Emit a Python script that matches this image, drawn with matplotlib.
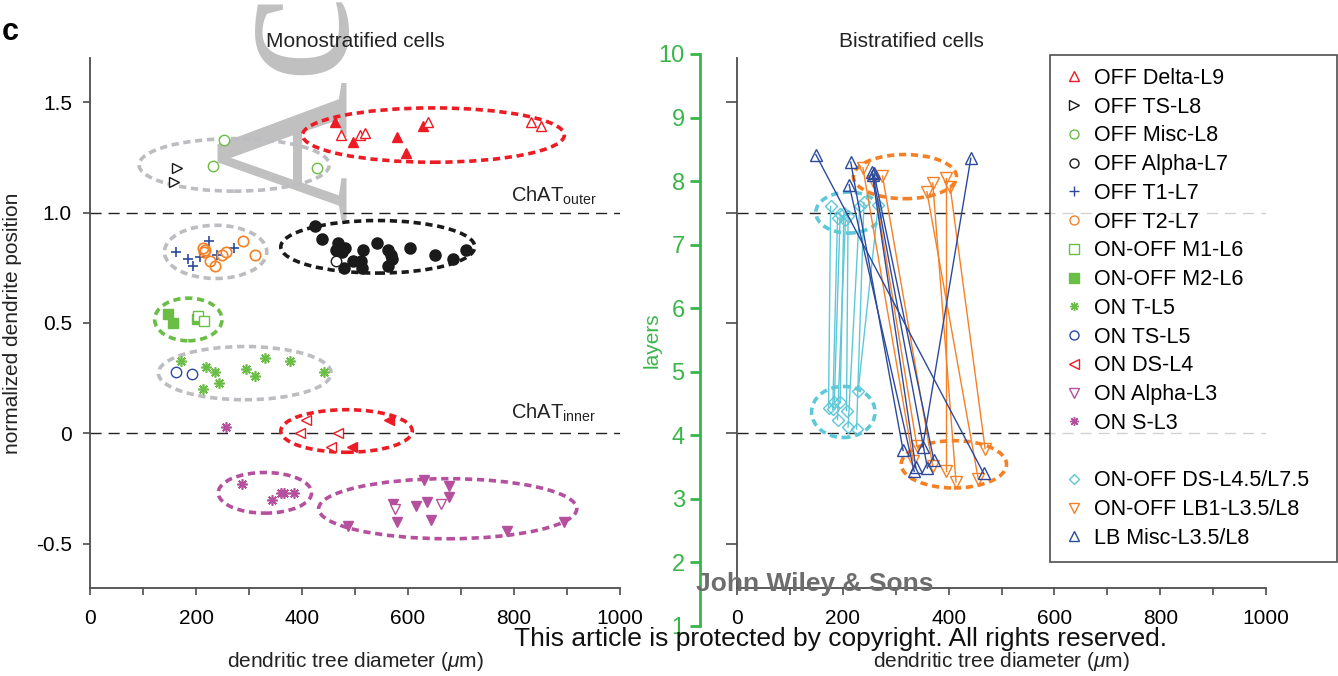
import numpy as np
import matplotlib
matplotlib.use('Agg')
import matplotlib.pyplot as plt
from matplotlib.patches import Ellipse
from matplotlib.lines import Line2D

plt.rcParams['font.family'] = ['Liberation Sans', 'DejaVu Sans']
plt.rcParams['mathtext.fontset'] = 'custom'
plt.rcParams['mathtext.rm'] = 'Liberation Sans'
plt.rcParams['mathtext.it'] = 'Liberation Sans:italic'

#%% data : monostratified cells (x = dendritic tree diameter, y = normalized position)

delta_filled_x = [463, 497, 580, 597, 628]
delta_filled_y = [1.41, 1.32, 1.34, 1.27, 1.39]
delta_open_x = [474, 509, 518, 637, 833, 851]
delta_open_y = [1.35, 1.35, 1.36, 1.41, 1.41, 1.39]
offts_x = [164, 158]
offts_y = [1.20, 1.14]
offmisc_x = [253, 233, 428]
offmisc_y = [1.33, 1.21, 1.20]
offalpha_x = [425, 438, 467, 482, 465, 475, 516, 542, 562, 567, 570, 562, 496, 511, 513, 479, 603, 650, 684, 709]
offalpha_y = [0.94, 0.88, 0.86, 0.84, 0.83, 0.82, 0.83, 0.86, 0.83, 0.81, 0.79, 0.76, 0.78, 0.78, 0.75, 0.75, 0.84, 0.81, 0.79, 0.83]
offalpha_open_x = [465]
offalpha_open_y = [0.78]
t1_x = [163, 184, 195, 208, 224, 239, 272]
t1_y = [0.82, 0.79, 0.76, 0.80, 0.87, 0.81, 0.84]
t2_x = [213, 217, 215, 226, 235, 249, 257, 289, 312]
t2_y = [0.84, 0.83, 0.82, 0.78, 0.76, 0.81, 0.82, 0.87, 0.81]
m1_x = [203, 215]
m1_y = [0.53, 0.51]
m2_x = [147, 157, 201]
m2_y = [0.54, 0.50, 0.52]
ont_x = [171, 218, 235, 244, 213, 294, 312, 330, 377, 442]
ont_y = [0.33, 0.30, 0.28, 0.23, 0.20, 0.29, 0.26, 0.34, 0.33, 0.28]
onts_x = [163, 193]
onts_y = [0.28, 0.27]
onds_open_x = [408, 396, 467, 454]
onds_open_y = [0.06, 0.00, 0.00, -0.06]
onds_filled_x = [564, 495]
onds_filled_y = [0.06, -0.06]
onalpha_x = [630, 677, 677, 635, 616, 572, 579, 643, 486, 787, 895]
onalpha_y = [-0.21, -0.24, -0.29, -0.31, -0.33, -0.32, -0.40, -0.39, -0.42, -0.44, -0.40]
onalpha_open_x = [576, 662]
onalpha_open_y = [-0.34, -0.32]
ons_x = [257, 286, 343, 360, 366, 385]
ons_y = [0.03, -0.23, -0.30, -0.27, -0.27, -0.27]

# cluster ellipses : center x, center y, width, height
mono_ell_cx = [648, 272, 543, 237, 185.5, 292, 484, 330, 675]
mono_ell_cy = [1.351, 1.216, 0.845, 0.822, 0.516, 0.273, 0.011, -0.269, -0.341]
mono_ell_w = [494, 359, 366, 193, 127, 326, 248, 176, 487]
mono_ell_h = [0.246, 0.238, 0.238, 0.241, 0.193, 0.241, 0.193, 0.184, 0.272]

#%% data : bistratified cells (layers), upper and lower arbor of each cell

ds_up_x = [177, 190, 195, 202, 205, 210, 232, 240, 267]
ds_up_y = [7.60, 7.42, 7.47, 7.49, 7.38, 7.45, 7.60, 7.66, 7.62]
ds_lo_x = [173, 181, 184, 195, 190, 207, 210, 226, 229]
ds_lo_y = [4.41, 4.38, 4.50, 4.50, 4.22, 4.36, 4.10, 4.07, 4.68]
lb1_up_x = [238, 258, 275, 359, 370, 395, 403]
lb1_up_y = [8.21, 8.00, 8.08, 7.83, 7.97, 8.05, 7.90]
lb1_lo_x = [333, 340, 370, 456, 414, 395, 469]
lb1_lo_y = [3.57, 3.80, 3.48, 3.28, 3.23, 3.41, 3.76]
lbm_up_x = [149, 215, 212, 255, 257, 259, 442]
lbm_up_y = [8.42, 8.30, 7.94, 8.14, 8.10, 8.12, 8.36]
lbm_lo_x = [466, 314, 335, 338, 360, 372, 351]
lbm_lo_y = [3.37, 3.73, 3.40, 3.46, 3.45, 3.58, 3.79]

bi_ell_cx = [211, 201, 317.5, 410]
bi_ell_cy = [7.50, 4.34, 8.07, 3.51]
bi_ell_w = [124, 120, 195, 199]
bi_ell_h = [0.65, 0.81, 0.70, 0.75]

legend_labels = ['OFF Delta-L9', 'OFF TS-L8', 'OFF Misc-L8', 'OFF Alpha-L7', 'OFF T1-L7', 'OFF T2-L7',
                 'ON-OFF M1-L6', 'ON-OFF M2-L6', 'ON T-L5', 'ON TS-L5', 'ON DS-L4', 'ON Alpha-L3',
                 'ON S-L3', ' ', 'ON-OFF DS-L4.5/L7.5', 'ON-OFF LB1-L3.5/L8', 'LB Misc-L3.5/L8']

xticks_vals = [0, 200, 400, 600, 800, 1000]
yticks_vals = [-0.5, 0, 0.5, 1.0, 1.5]
yticks_labels = ['-0.5', '0', '0.5', '1.0', '1.5']
layer_ticks = [1, 2, 3, 4, 5, 6, 7, 8, 9, 10]

#%% colours
red = '#ed1c24'
gray = '#bcbdc0'
green = '#6abd45'
blue = '#2c4a9d'
orange = '#f58025'
cyan = '#5ec8d8'
purple = '#b5509e'
black = '#1a1a1a'
axgreen = '#39b54a'
spinec = '#4d4d4d'

mono_ell_col = [red, gray, black, gray, green, gray, red, purple, purple]
bi_ell_col = [cyan, cyan, orange, orange]

W, H = 1338, 676
fig = plt.figure(figsize=(W/100, H/100), dpi=100)

def fx(px):
    return px/W
def fy(py):
    return 1 - py/H

axL = fig.add_axes([fx(90), fy(588), 530/W, 530/H])
axR = fig.add_axes([fx(737), fy(588), 529/W, 530/H])
axG = fig.add_axes([fx(700), fy(626), 0.0001, 572/H])

for ax in (axL, axR):
    ax.patch.set_alpha(0)
    for s in ['top', 'right']:
        ax.spines[s].set_visible(False)
    for s in ['left', 'bottom']:
        ax.spines[s].set_color(spinec)
        ax.spines[s].set_linewidth(1.3)
    ax.set_xlim(0, 1000)
    ax.set_xticks(xticks_vals)
    ax.set_xticks(np.arange(100, 1000, 200), minor=True)
    ax.tick_params(which='both', direction='out', length=5, width=1.2, color=spinec, labelsize=15, pad=10)
    ax.set_xlabel('dendritic tree diameter ($\\mu$m)', fontsize=15, labelpad=16, color='#222222')

#%% left panel
axL.set_ylim(-0.7, 1.7)
axL.set_yticks(yticks_vals)
axL.set_yticklabels(yticks_labels)
axL.tick_params(axis='y', pad=8)
axL.set_ylabel('normalized dendrite position', fontsize=15, labelpad=10, color='#222222')
axL.set_title('Monostratified cells', fontsize=15, pad=8, color='#222222')
for yy in [0, 1]:
    axL.axhline(yy, color='#222222', lw=1, ls=(0, (8, 5)), zorder=1)

for cx, cy, w, h, c in zip(mono_ell_cx, mono_ell_cy, mono_ell_w, mono_ell_h, mono_ell_col):
    axL.add_patch(Ellipse((cx, cy), w, h, fill=False, ec=c, lw=2.6, ls=(0, (2, 1.3)), zorder=2))

ms = 7.5
asterisk = (8, 2, 0)
axL.plot(delta_filled_x, delta_filled_y, '^', color=red, ms=ms, zorder=3)
axL.plot(delta_open_x, delta_open_y, '^', mfc='white', mec=red, ms=ms, zorder=3)
axL.plot(offts_x, offts_y, '>', mfc='white', mec=black, ms=ms, zorder=3)
axL.plot(offmisc_x, offmisc_y, 'o', mfc='white', mec=green, ms=ms, zorder=3)
axL.plot(offalpha_x, offalpha_y, 'o', color=black, ms=ms+0.5, zorder=3)
axL.plot(offalpha_open_x, offalpha_open_y, 'o', mfc='white', mec=black, ms=ms, zorder=3)
axL.plot(t1_x, t1_y, '+', color=blue, ms=ms, mew=1.2, zorder=3)
axL.plot(t2_x, t2_y, 'o', mfc='none', mec=orange, ms=ms, mew=1.2, zorder=3)
axL.plot(m2_x, m2_y, 's', color=green, ms=ms, zorder=3)
axL.plot(m1_x, m1_y, 's', mfc='white', mec=green, ms=ms, zorder=3)
axL.plot(ont_x, ont_y, ls='none', marker=asterisk, color=green, ms=ms, mew=1.2, zorder=3)
axL.plot(onts_x, onts_y, 'o', mfc='white', mec=blue, ms=ms, zorder=3)
axL.plot(onds_open_x, onds_open_y, '<', mfc='white', mec=red, ms=ms, zorder=3)
axL.plot(onds_filled_x, onds_filled_y, '<', color=red, ms=ms, zorder=3)
axL.plot(onalpha_x, onalpha_y, 'v', color=purple, ms=ms, zorder=3)
axL.plot(onalpha_open_x, onalpha_open_y, 'v', mfc='white', mec=purple, ms=ms, zorder=3)
axL.plot(ons_x, ons_y, ls='none', marker=asterisk, color=purple, ms=ms, mew=1.2, zorder=3)

axL.text(794, 1.05, 'ChAT$_{\\mathrm{outer}}$', fontsize=14.5, va='baseline', color='#222222')
axL.text(794, 0.065, 'ChAT$_{\\mathrm{inner}}$', fontsize=14.5, va='baseline', color='#222222')

#%% right panel
axR.set_ylim(1.55, 9.95)
axR.set_yticks([2.25, 4, 5.75, 7.5, 9.25])
axR.set_yticklabels([])
axR.tick_params(axis='y', length=8)
axR.set_title('Bistratified cells', fontsize=15, pad=8, color='#222222', x=(911-737)/529)
for yy in [4, 7.5]:
    axR.axhline(yy, color='#222222', lw=1, ls=(0, (8, 5)), zorder=1)

for cx, cy, w, h, c in zip(bi_ell_cx, bi_ell_cy, bi_ell_w, bi_ell_h, bi_ell_col):
    axR.add_patch(Ellipse((cx, cy), w, h, fill=False, ec=c, lw=2.6, ls=(0, (2, 1.3)), zorder=2))

for i in range(len(ds_up_x)):
    axR.plot([ds_up_x[i], ds_lo_x[i]], [ds_up_y[i], ds_lo_y[i]], '-D', color=cyan, mfc='none', ms=6.5, lw=1, zorder=3)
for i in range(len(lb1_up_x)):
    axR.plot([lb1_up_x[i], lb1_lo_x[i]], [lb1_up_y[i], lb1_lo_y[i]], '-v', color=orange, mfc='none', ms=8.5, lw=1, zorder=3)
for i in range(len(lbm_up_x)):
    axR.plot([lbm_up_x[i], lbm_lo_x[i]], [lbm_up_y[i], lbm_lo_y[i]], '-^', color=blue, mfc='none', ms=8.5, lw=1, zorder=3)

#%% green layers axis
axG.patch.set_alpha(0)
for s in ['top', 'right', 'bottom']:
    axG.spines[s].set_visible(False)
axG.spines['left'].set_color(axgreen)
axG.spines['left'].set_linewidth(2)
axG.set_ylim(1, 10)
axG.set_yticks(layer_ticks)
axG.set_xticks([])
axG.tick_params(axis='y', direction='out', length=7, width=2, color=axgreen, labelcolor=axgreen, labelsize=17, pad=4)
axG.set_ylabel('layers', color=axgreen, fontsize=15, labelpad=-2)

#%% legend
mk = ['^', '>', 'o', 'o', '+', 'o', 's', 's', asterisk, 'o', '<', 'v', asterisk, None, 'D', 'v', '^']
mkc = [red, black, green, black, blue, orange, green, green, green, blue, red, purple, purple, 'none', cyan, orange, blue]
mkfill = ['none']*7 + [green, green, 'none', 'none', 'none', purple, 'none', 'none', 'none', 'none']
handles = []
for m, c, f in zip(mk, mkc, mkfill):
    if m is None:
        handles.append(Line2D([], [], ls='none'))
    else:
        handles.append(Line2D([], [], ls='none', marker=m, mec=c, mfc=f, ms=6.5 if m != 'D' else 5.5, mew=1))
leg = fig.legend(handles, legend_labels, loc='upper left', bbox_to_anchor=(fx(1050), fy(559), 287/W, 504/H),
                 mode='expand', fontsize=15.5, frameon=True, fancybox=False, borderpad=0.6,
                 labelspacing=0.36, handlelength=1.0, handletextpad=0.45, borderaxespad=0)
leg.get_frame().set_edgecolor('#222222')
leg.get_frame().set_linewidth(1.2)

#%% panel letter and watermark texts
fig.text(fx(2), fy(40), 'c', fontsize=22, weight='bold', va='baseline')
fig.text(fx(346), fy(220), 'Acc', rotation=90, rotation_mode='anchor', ha='left', va='baseline',
         fontsize=140, family='Liberation Serif', color='#c0c0c0', zorder=-1)
fig.text(fx(696), fy(591), 'John Wiley & Sons', fontsize=19, weight='bold', color='#6d6d6d', va='baseline')
fig.text(fx(840), fy(646), 'This article is protected by copyright. All rights reserved.', ha='center',
         va='baseline', fontsize=19, family=['Liberation Sans Narrow', 'Liberation Sans'], color='#111111')

fig.savefig('out.png', dpi=100)
